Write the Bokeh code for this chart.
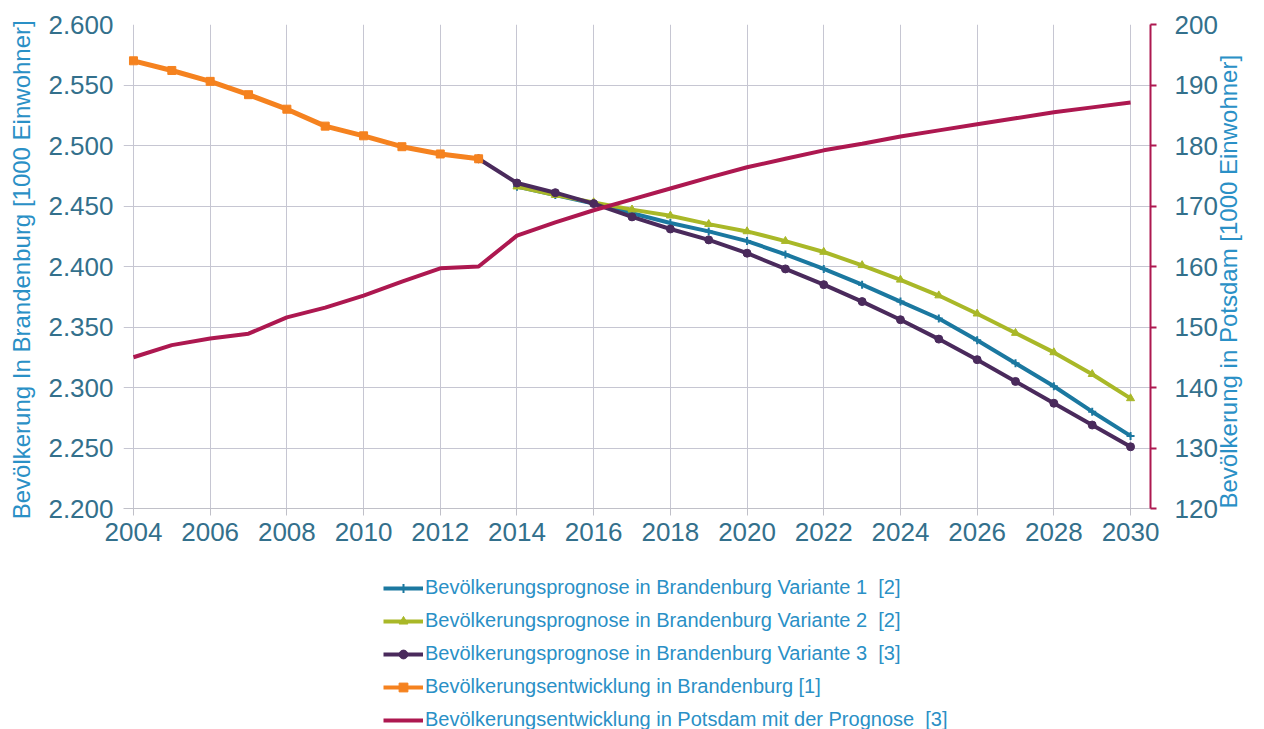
from bokeh.plotting import figure
from bokeh.layouts import column
from bokeh.models import Range1d, LinearAxis, Legend, LegendItem, FixedTicker
from bokeh.embed import file_html
from bokeh.resources import INLINE
import math

# ---- data (1000 Einwohner) ----
years_hist = [2004, 2005, 2006, 2007, 2008, 2009, 2010, 2011, 2012, 2013]
brb_hist = [2570, 2562, 2553, 2542, 2530, 2516, 2508, 2499, 2493, 2489]

years_v1 = list(range(2014, 2031))
brb_v1 = [2466, 2459, 2452, 2444, 2436, 2429, 2421, 2410, 2398, 2385, 2371, 2357, 2339, 2320, 2301, 2280, 2260]

years_v2 = list(range(2014, 2031))
brb_v2 = [2466, 2459, 2453, 2447, 2442, 2435, 2429, 2421, 2412, 2401, 2389, 2376, 2361, 2345, 2329, 2311, 2291]

years_v3 = list(range(2013, 2031))
brb_v3 = [2489, 2469, 2461, 2452, 2441, 2431, 2422, 2411, 2398, 2385, 2371, 2356, 2340, 2323, 2305, 2287, 2269, 2251]

years_pdm = list(range(2004, 2031))
potsdam = [145.0, 147.0, 148.1, 148.9, 151.6, 153.2, 155.2, 157.5, 159.7, 160.0, 165.1, 167.3, 169.3,
           171.1, 172.9, 174.7, 176.4, 177.8, 179.2, 180.3, 181.5, 182.5, 183.5, 184.5, 185.5, 186.3, 187.1]

x_ticks = list(range(2004, 2031, 2))
left_ticks = [2200, 2250, 2300, 2350, 2400, 2450, 2500, 2550, 2600]
left_tick_labels = ["2.200", "2.250", "2.300", "2.350", "2.400", "2.450", "2.500", "2.550", "2.600"]
right_ticks = [120, 130, 140, 150, 160, 170, 180, 190, 200]

labels = [
    "Bevölkerungsprognose in Brandenburg Variante 1  [2]",
    "Bevölkerungsprognose in Brandenburg Variante 2  [2]",
    "Bevölkerungsprognose in Brandenburg Variante 3  [3]",
    "Bevölkerungsentwicklung in Brandenburg [1]",
    "Bevölkerungsentwicklung in Potsdam mit der Prognose  [3]",
]

C_BLUE = "#1b78a0"
C_GREEN = "#a9b828"
C_PURPLE = "#4a2a5c"
C_ORANGE = "#f5821f"
C_CRIMSON = "#ad1850"
TICK_COL = "#33708c"
TITLE_COL = "#2a90c6"
FONT = "Liberation Sans"

p = figure(width=1264, height=553, output_backend="svg", toolbar_location=None,
           x_range=Range1d(2003.74, 2030.52), y_range=Range1d(2200, 2600),
           min_border_left=123, min_border_right=114, min_border_top=24, min_border_bottom=45)
p.outline_line_color = None
p.background_fill_color = "white"
p.border_fill_color = "white"

p.extra_y_ranges = {"right": Range1d(120, 200)}

# grids
p.xgrid.ticker = FixedTicker(ticks=x_ticks)
p.ygrid.ticker = FixedTicker(ticks=left_ticks)
p.xgrid.grid_line_color = "#c6c6d2"
p.ygrid.grid_line_color = "#c6c6d2"
p.xgrid.grid_line_width = 1
p.ygrid.grid_line_width = 1

# x axis
xa = p.xaxis[0]
xa.ticker = FixedTicker(ticks=x_ticks)
xa.axis_line_color = "#c0c0c8"
xa.major_tick_line_color = "#c0c0c8"
xa.major_tick_out = 7
xa.major_tick_in = 0
xa.minor_tick_line_color = None
xa.major_label_text_font = FONT
xa.major_label_text_font_size = "26px"
xa.major_label_text_color = TICK_COL
xa.major_label_standoff = 7

# left axis
ya = p.yaxis[0]
ya.ticker = FixedTicker(ticks=left_ticks)
ya.major_label_overrides = {t: l for t, l in zip(left_ticks, left_tick_labels)}
ya.axis_line_color = None
ya.major_tick_line_color = None
ya.major_tick_out = 0
ya.major_tick_in = 0
ya.minor_tick_line_color = None
ya.major_label_text_font = FONT
ya.major_label_text_font_size = "26px"
ya.major_label_text_color = TICK_COL
ya.major_label_standoff = 10
ya.axis_label = "Bevölkerung  In Brandenburg [1000 Einwohner]"
ya.axis_label_text_font = FONT
ya.axis_label_text_font_style = "normal"
ya.axis_label_text_font_size = "24px"
ya.axis_label_text_color = TITLE_COL
ya.axis_label_standoff = 10

# right axis
ra = LinearAxis(y_range_name="right", ticker=FixedTicker(ticks=right_ticks))
ra.axis_line_color = C_CRIMSON
ra.axis_line_width = 2
ra.major_tick_line_color = C_CRIMSON
ra.major_tick_line_width = 2
ra.major_tick_in = 0
ra.major_tick_out = 6
ra.minor_tick_line_color = None
ra.major_label_text_font = FONT
ra.major_label_text_font_size = "26px"
ra.major_label_text_color = TICK_COL
ra.major_label_standoff = 18
ra.axis_label = "Bevölkerung  in Potsdam [1000 Einwohner]"
ra.axis_label_text_font = FONT
ra.axis_label_text_font_style = "normal"
ra.axis_label_text_font_size = "24px"
ra.axis_label_text_color = TITLE_COL
ra.axis_label_standoff = 8
_props = ra.properties()
if "axis_label_orientation" in _props and "axis_label_align" in _props:
    ra.axis_label_orientation = math.pi / 2
    ra.axis_label_align = "start"
p.add_layout(ra, "right")

# series
r1l = p.line(years_v1, brb_v1, line_color=C_BLUE, line_width=4)
r1m = p.scatter(years_v1, brb_v1, marker="cross", size=8, line_color=C_BLUE, line_width=2)
r2l = p.line(years_v2, brb_v2, line_color=C_GREEN, line_width=4)
r2m = p.scatter(years_v2, brb_v2, marker="triangle", size=8, fill_color=C_GREEN, line_color=C_GREEN)
r3l = p.line(years_v3, brb_v3, line_color=C_PURPLE, line_width=4)
r3m = p.scatter(years_v3, brb_v3, marker="circle", size=8, fill_color=C_PURPLE, line_color=C_PURPLE)
r4l = p.line(years_hist, brb_hist, line_color=C_ORANGE, line_width=5)
r4m = p.scatter(years_hist, brb_hist, marker="square", size=8, fill_color=C_ORANGE, line_color=C_ORANGE)
r5l = p.line(years_pdm, potsdam, line_color=C_CRIMSON, line_width=4, y_range_name="right")

# ---- legend figure below (its glyphs lie outside its ranges; only the legend shows) ----
p2 = figure(width=1264, height=176, output_backend="svg", toolbar_location=None,
            x_range=Range1d(0, 1), y_range=Range1d(0, 1),
            x_axis_location=None, y_axis_location=None,
            min_border_left=0, min_border_right=0, min_border_top=0, min_border_bottom=0)
p2.outline_line_color = None
p2.grid.visible = False

l1l = p2.line(years_v1, brb_v1, line_color=C_BLUE, line_width=4)
l1m = p2.scatter(years_v1, brb_v1, marker="cross", size=8, line_color=C_BLUE, line_width=2)
l2l = p2.line(years_v2, brb_v2, line_color=C_GREEN, line_width=4)
l2m = p2.scatter(years_v2, brb_v2, marker="triangle", size=8, fill_color=C_GREEN, line_color=C_GREEN)
l3l = p2.line(years_v3, brb_v3, line_color=C_PURPLE, line_width=4)
l3m = p2.scatter(years_v3, brb_v3, marker="circle", size=8, fill_color=C_PURPLE, line_color=C_PURPLE)
l4l = p2.line(years_hist, brb_hist, line_color=C_ORANGE, line_width=4)
l4m = p2.scatter(years_hist, brb_hist, marker="square", size=8, fill_color=C_ORANGE, line_color=C_ORANGE)
l5l = p2.line(years_pdm, potsdam, line_color=C_CRIMSON, line_width=4)

legend = Legend(items=[
    LegendItem(label=labels[0], renderers=[l1l, l1m]),
    LegendItem(label=labels[1], renderers=[l2l, l2m]),
    LegendItem(label=labels[2], renderers=[l3l, l3m]),
    LegendItem(label=labels[3], renderers=[l4l, l4m]),
    LegendItem(label=labels[4], renderers=[l5l]),
], orientation="vertical", location=(260, -2))
legend.border_line_color = None
legend.background_fill_alpha = 0
legend.label_text_font = FONT
legend.label_text_font_size = "20px"
legend.label_text_color = TITLE_COL
legend.glyph_width = 40
legend.glyph_height = 22
legend.label_height = 22
legend.label_standoff = 2
legend.spacing = 10
legend.padding = 0
legend.margin = 0
p2.add_layout(legend)

layout = column(p, p2, spacing=0)
open("out.html", "w").write(file_html(layout, INLINE))
